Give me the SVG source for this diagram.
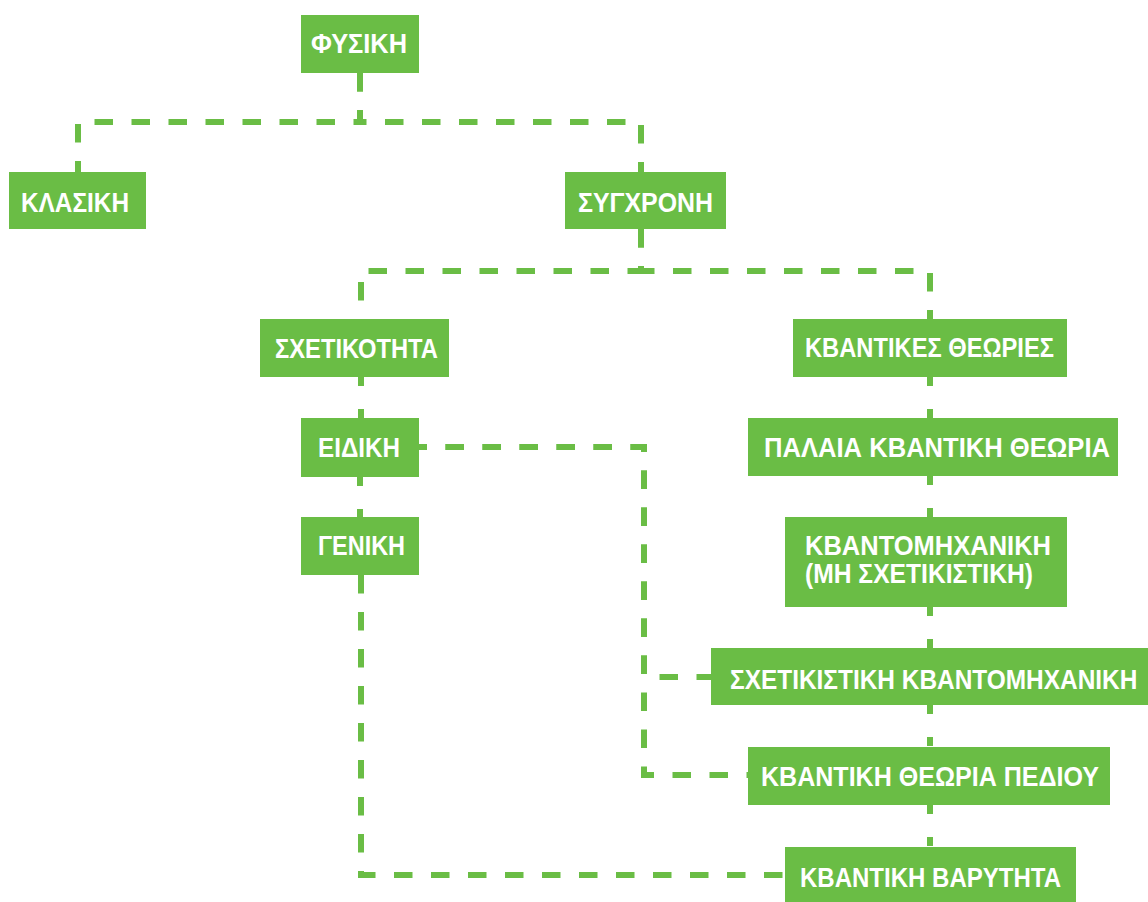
<svg xmlns="http://www.w3.org/2000/svg" width="1148" height="902" viewBox="0 0 1148 902">
<style>
.box{fill:#6abd45}
.lbl{fill:#ffffff;font-family:"Liberation Sans","DejaVu Sans",sans-serif;font-weight:bold;font-size:27px;text-anchor:start}
.c{fill:none;stroke:#6abd45;stroke-width:6;stroke-dasharray:18.5 18.5}
.s{fill:none;stroke:#6abd45;stroke-width:6;stroke-dasharray:9 23}
</style>
<rect width="1148" height="902" fill="#ffffff"/>
<g id="connectors">
<path class="c" d="M360 73 V122 H78 V172"/>
<path class="c" d="M360 73 V122 H641 V172"/>
<path class="c" d="M641 229 V271 H361 V319"/>
<path class="c" d="M641 229 V271 H930 V319"/>
<path class="s" d="M361 377 V418"/>
<path class="s" d="M360 477 V517"/>
<path class="c" d="M361 575 V875 H785"/>
<path class="c" style="stroke-dashoffset:10.5" d="M419 447 H644 V677 H711"/>
<path class="c" style="stroke-dashoffset:10.5" d="M419 447 H644 V775 H748"/>
<path class="s" d="M930 377 V418"/>
<path class="s" d="M930 476 V517"/>
<path class="s" d="M930 607 V648"/>
<path class="s" d="M930 705 V747"/>
<path class="s" d="M930 805 V847"/>
</g>
<g id="fysiki"><rect class="box" x="301" y="15" width="118" height="58"/><text class="lbl" x="311" y="53" textLength="96" lengthAdjust="spacingAndGlyphs">ΦΥΣΙΚΗ</text></g>
<g id="klasiki"><rect class="box" x="9" y="172" width="137" height="57"/><text class="lbl" x="21" y="212" textLength="108" lengthAdjust="spacingAndGlyphs">ΚΛΑΣΙΚΗ</text></g>
<g id="sygxroni"><rect class="box" x="565" y="172" width="161" height="57"/><text class="lbl" x="578" y="212" textLength="135" lengthAdjust="spacingAndGlyphs">ΣΥΓΧΡΟΝΗ</text></g>
<g id="sxetikotita"><rect class="box" x="260" y="319" width="189" height="58"/><text class="lbl" x="275" y="358" textLength="163" lengthAdjust="spacingAndGlyphs">ΣΧΕΤΙΚΟΤΗΤΑ</text></g>
<g id="eidiki"><rect class="box" x="301" y="418" width="118" height="59"/><text class="lbl" x="318" y="457" textLength="82" lengthAdjust="spacingAndGlyphs">ΕΙΔΙΚΗ</text></g>
<g id="geniki"><rect class="box" x="301" y="517" width="118" height="58"/><text class="lbl" x="318" y="555" textLength="87" lengthAdjust="spacingAndGlyphs">ΓΕΝΙΚΗ</text></g>
<g id="kvantikes-theories"><rect class="box" x="793" y="319" width="274" height="58"/><text class="lbl" x="805" y="357" textLength="249" lengthAdjust="spacingAndGlyphs">ΚΒΑΝΤΙΚΕΣ ΘΕΩΡΙΕΣ</text></g>
<g id="palaia"><rect class="box" x="748" y="418" width="370" height="58"/><text class="lbl" x="764" y="457" textLength="346" lengthAdjust="spacingAndGlyphs">ΠΑΛΑΙΑ ΚΒΑΝΤΙΚΗ ΘΕΩΡΙΑ</text></g>
<g id="kvantomixaniki"><rect class="box" x="785" y="517" width="282" height="90"/><text class="lbl" x="805" y="555" textLength="246" lengthAdjust="spacingAndGlyphs">ΚΒΑΝΤΟΜΗΧΑΝΙΚΗ</text><text class="lbl" x="805" y="583" textLength="228" lengthAdjust="spacingAndGlyphs">(ΜΗ ΣΧΕΤΙΚΙΣΤΙΚΗ)</text></g>
<g id="sxetikistiki"><rect class="box" x="711" y="648" width="437" height="57"/><text class="lbl" transform="translate(730 689) scale(0.905 1)" x="0" y="0">ΣΧΕΤΙΚΙΣΤΙΚΗ ΚΒΑΝΤΟΜΗΧΑΝΙΚΗ</text></g>
<g id="pediou"><rect class="box" x="748" y="747" width="362" height="58"/><text class="lbl" x="761" y="786" textLength="338" lengthAdjust="spacingAndGlyphs">ΚΒΑΝΤΙΚΗ ΘΕΩΡΙΑ ΠΕΔΙΟΥ</text></g>
<g id="varytita"><rect class="box" x="785" y="847" width="291" height="55"/><text class="lbl" x="800" y="887" textLength="261" lengthAdjust="spacingAndGlyphs">ΚΒΑΝΤΙΚΗ ΒΑΡΥΤΗΤΑ</text></g>
</svg>
